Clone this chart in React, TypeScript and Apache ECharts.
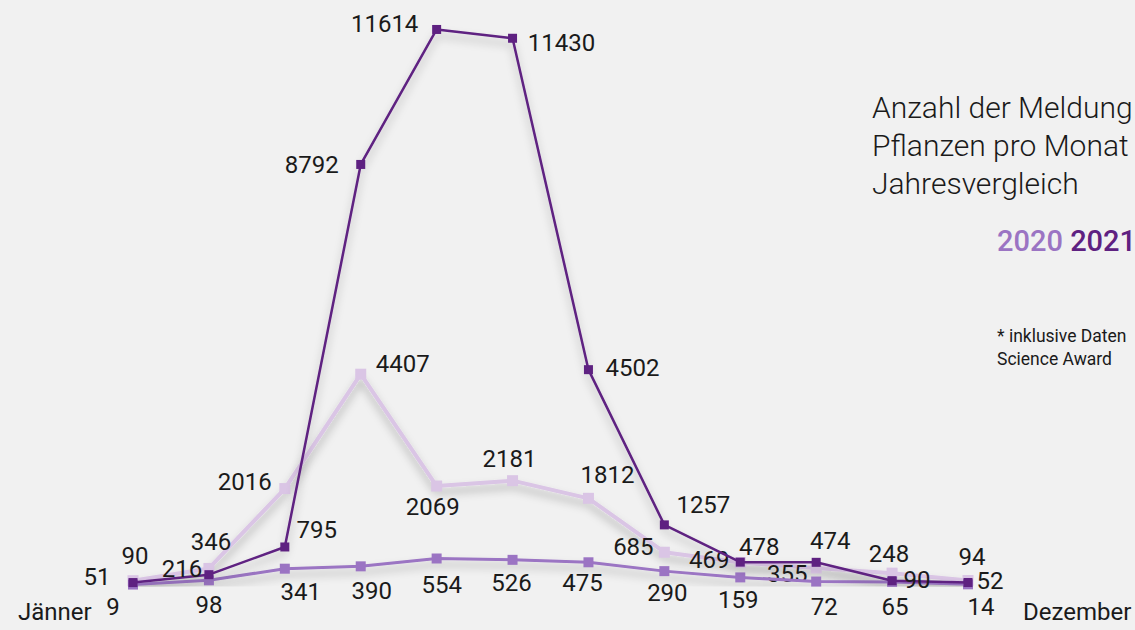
import React, { useEffect, useRef } from "react";
import * as echarts from "echarts";

const months = ["Jänner", "Februar", "März", "April", "Mai", "Juni", "Juli", "August", "September", "Oktober", "November", "Dezember"];
const seriesNames = ["2019", "2020", "2021"];
const valuesLight = [90, 346, 2016, 4407, 2069, 2181, 1812, 685, 469, 355, 248, 94];
const valuesMedium = [9, 98, 341, 390, 554, 526, 475, 290, 159, 72, 65, 14];
const valuesDark = [51, 216, 795, 8792, 11614, 11430, 4502, 1257, 478, 474, 90, 52];
const titleLines = ["Anzahl der Meldung", "Pflanzen pro Monat", "Jahresvergleich"];
const legendYears = ["2020", "2021"];
const noteLines = ["* inklusive Daten", "Science Award"];

// label offsets (style only): relative to marker centre
const offLight: [number, number][] = [
  [2, -25], [2, -26], [-40, -7], [42, -10], [-4, 21], [-3, -22],
  [19, -23], [-31, -5], [-31, -3], [-29, 6], [-3, -19], [4, -24],
];
const offMedium: [number, number][] = [
  [-20, 22], [0, 25], [16, 23], [11, 25], [5, 26], [-1, 23],
  [-6, 21], [3, 22], [-2, 23], [8, 25], [3, 25], [13, 23],
];
const offDark: [number, number][] = [
  [-36, -6], [-27, -6], [32, -17], [-49, 1], [-52, -5], [49, 5],
  [44, -2], [39, -20], [19, -15], [14, -21], [25, -1], [22, -2],
];

const FONT = "Roboto, 'Noto Sans', sans-serif";
const TEXT = "#1a1a1a";
const C_LIGHT = "#dac5e5";
const C_MED = "#9b74c3";
const C_DARK = "#5e2181";

function buildData(vals: number[], offs: [number, number][]) {
  return vals.map((v, i) => ({
    value: v,
    label: { offset: offs[i] },
  }));
}

function makeSeries(name: string, vals: number[], offs: [number, number][], color: string, width: number, size: number, z: number) {
  return {
    type: "line",
    name,
    z,
    data: buildData(vals, offs),
    symbol: "rect",
    symbolSize: size,
    itemStyle: { color },
    lineStyle: {
      color,
      width,
      shadowColor: "rgba(0,0,0,0.28)",
      shadowBlur: 8,
      shadowOffsetY: 6,
    },
    label: {
      show: true,
      position: "inside",
      color: TEXT,
      fontFamily: FONT,
      fontSize: 24,
      fontWeight: 400,
    },
    emphasis: { disabled: true },
  };
}

export default function App() {
  const ref = useRef<HTMLDivElement>(null);
  useEffect(() => {
    if (!ref.current) return;
    const chart = echarts.init(ref.current, null, { renderer: "svg" });
    const graphic: any[] = [];
    titleLines.forEach((t, i) => {
      graphic.push({
        type: "text",
        left: 872,
        top: 92 + i * 38,
        style: { text: t, font: `300 30px ${FONT}`, fill: TEXT },
      });
    });
    graphic.push({
      type: "text",
      left: 997,
      top: 226,
      style: {
        text: `{a|${legendYears[0]}} {b|${legendYears[1]}}`,
        rich: {
          a: { fill: C_MED, fontSize: 29, fontWeight: 500, fontFamily: FONT },
          b: { fill: C_DARK, fontSize: 29, fontWeight: 500, fontFamily: FONT },
        },
        font: `500 29px ${FONT}`,
      },
    });
    noteLines.forEach((t, i) => {
      graphic.push({
        type: "text",
        left: 997,
        top: 327 + i * 23,
        style: { text: t, font: `400 17.5px ${FONT}`, fill: TEXT },
      });
    });
    graphic.push({
      type: "text",
      left: 18,
      top: 600,
      style: { text: months[0], font: `400 24px ${FONT}`, fill: TEXT },
    });
    graphic.push({
      type: "text",
      left: 1023,
      top: 600,
      style: { text: months[11], font: `400 24px ${FONT}`, fill: TEXT },
    });

    chart.setOption({
      animation: false,
      backgroundColor: "#f1f1f1",
      grid: { left: 133, right: 167, top: 11, bottom: 45 },
      xAxis: {
        type: "category",
        data: months,
        boundaryGap: false,
        show: false,
      },
      yAxis: {
        type: "value",
        min: 0,
        max: 12000,
        show: false,
        splitLine: { show: false },
      },
      graphic,
      series: [
        makeSeries(seriesNames[0], valuesLight, offLight, C_LIGHT, 4, 11, 2),
        makeSeries(seriesNames[1], valuesMedium, offMedium, C_MED, 3, 10, 3),
        makeSeries(seriesNames[2], valuesDark, offDark, C_DARK, 2.5, 9, 4),
      ],
    });
    return () => chart.dispose();
  }, []);
  return (
    <div
      ref={ref}
      style={{ position: "fixed", left: 0, top: 0, width: 1135, height: 630 }}
    />
  );
}
